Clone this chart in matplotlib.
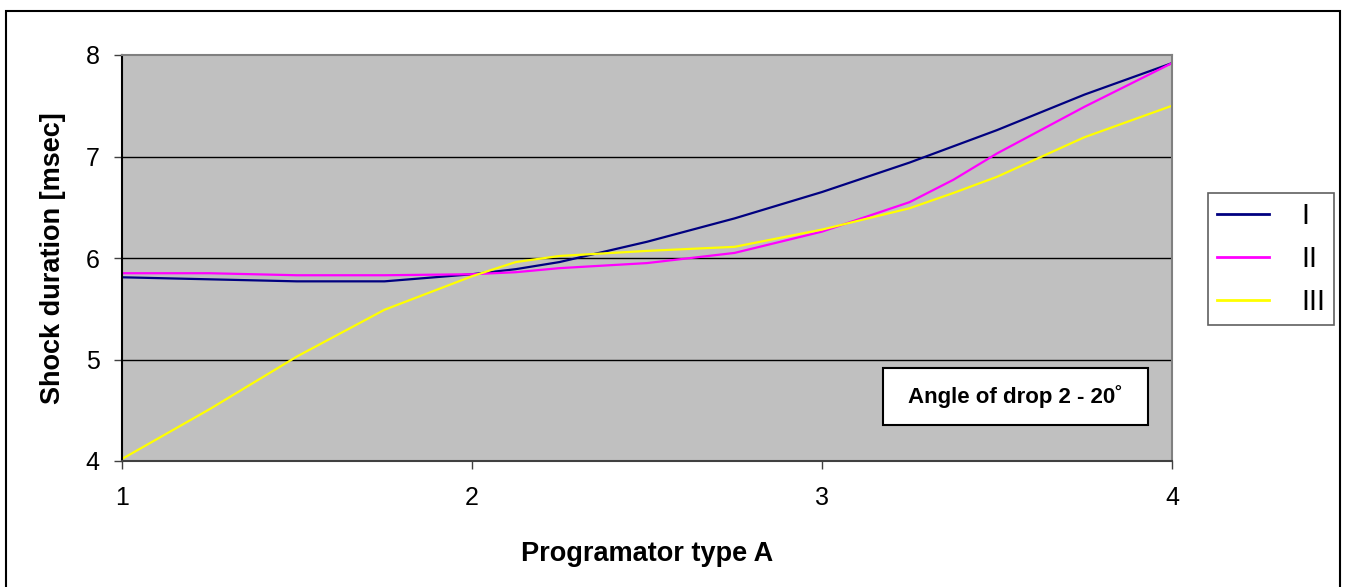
import matplotlib
matplotlib.use("Agg")
import matplotlib.pyplot as plt
from matplotlib.patches import Rectangle

plt.rcParams['font.family'] = ['Liberation Sans', 'DejaVu Sans']

# data
prog_type = [1, 1.25, 1.5, 1.75, 2, 2.125, 2.25, 2.5, 2.75, 3, 3.25, 3.375, 3.5, 3.75, 4]
series_I = [5.81, 5.79, 5.77, 5.77, 5.84, 5.89, 5.96, 6.16, 6.39, 6.65, 6.94, 7.10, 7.26, 7.61, 7.92]
series_II = [5.85, 5.85, 5.83, 5.83, 5.84, 5.86, 5.90, 5.95, 6.05, 6.26, 6.55, 6.77, 7.03, 7.49, 7.92]
series_III = [4.02, 4.51, 5.03, 5.49, 5.82, 5.96, 6.02, 6.07, 6.11, 6.28, 6.49, 6.64, 6.80, 7.19, 7.50]
labels = ['I', 'II', 'III']
colors = ['#000080', '#FF00FF', '#FFFF00']

fig = plt.figure(figsize=(13.45, 5.87), dpi=100)
W, H = 1345, 587

# outer frame of the chart
fig.patches.append(Rectangle((6 / W, -0.05), 1334 / W, 1 - 11 / H + 0.05,
                             transform=fig.transFigure, fill=False,
                             edgecolor='black', linewidth=1.5))

ax = fig.add_axes([122 / W, 1 - 461 / H, 1050 / W, 406 / H])
ax.set_facecolor('#C0C0C0')

for ys, lab, col in zip([series_I, series_II, series_III], labels, colors):
    ax.plot(prog_type, ys, color=col, linewidth=1.6, label=lab,
            solid_joinstyle='round')

ax.set_xlim(1, 4)
ax.set_ylim(4, 8)
ax.set_xticks([1, 2, 3, 4])
ax.set_yticks([4, 5, 6, 7, 8])
for yv in [5, 6, 7]:
    ax.axhline(yv, color='black', linewidth=1, zorder=1)

ax.spines['top'].set_color('#808080')
ax.spines['right'].set_color('#808080')
ax.spines['left'].set_color('black')
ax.spines['bottom'].set_color('#404040')
for s in ax.spines.values():
    s.set_linewidth(1.5)

ax.tick_params(axis='both', direction='out', length=6, width=1,
               labelsize=18, colors='#404040', labelcolor='black')
ax.tick_params(axis='y', pad=10)
ax.tick_params(axis='x', pad=12)

ax.set_xlabel('Programator type A', fontsize=19.5, fontweight='bold', labelpad=22)
ax.set_ylabel('Shock duration [msec]', fontsize=19.5, fontweight='bold', labelpad=14)

# annotation box
ax.add_patch(Rectangle((0.7248, 0.0887), 0.2524, 0.1404, transform=ax.transAxes,
                       facecolor='white', edgecolor='black', linewidth=1.5,
                       zorder=5))
ax.text(0.7248 + 0.1262, 0.0887 + 0.0702, 'Angle of drop 2 - 20˚',
        transform=ax.transAxes, ha='center', va='center', fontsize=16,
        fontweight='bold', zorder=6)

leg = fig.legend(loc='upper left', bbox_to_anchor=(1208 / W, 1 - 193 / H),
                 bbox_transform=fig.transFigure, borderaxespad=0,
                 fontsize=21, handlelength=1.8, handletextpad=1.1,
                 labelspacing=0.52, borderpad=0.3, fancybox=False,
                 framealpha=1, edgecolor='#606060')
leg.get_frame().set_linewidth(1.2)
for ln in leg.get_lines():
    ln.set_linewidth(2)

fig.savefig('out.png', dpi=100)
